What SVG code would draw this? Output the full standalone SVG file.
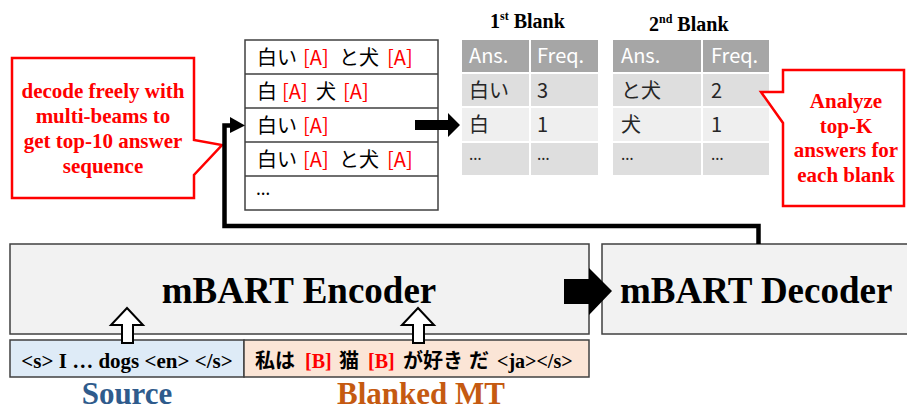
<svg xmlns="http://www.w3.org/2000/svg" width="907" height="412" viewBox="0 0 907 412">
<style>
.serif{font-family:"Liberation Serif","Times New Roman",serif;font-weight:bold}
.jp{font-family:"Noto Sans CJK JP","Noto Sans",sans-serif}
.lat{font-family:"Noto Sans","Liberation Sans",sans-serif}
.red{fill:#ff0000}
.box{stroke:#404040;stroke-width:1.5}
.call{fill:#ffffff;stroke:#ff0000;stroke-width:2.5}
.hdr{fill:#a6a6a6}
.c1{fill:#dedede}
.c2{fill:#efefef}
.wt{fill:#ffffff}
.hollow{fill:#ffffff;stroke:#000000;stroke-width:2}
</style>
<rect width="907" height="412" fill="#ffffff"/>

<g id="encoder">
  <rect class="box" x="10" y="244" width="579" height="90" fill="#f2f2f2"/>
  <text class="serif" x="299" y="303" font-size="37" text-anchor="middle">mBART Encoder</text>
</g>

<g id="decoder">
  <rect class="box" x="602" y="244" width="312" height="90" fill="#f2f2f2"/>
  <text class="serif" x="620" y="303" font-size="37">mBART Decoder</text>
</g>

<g id="source">
  <rect class="box" x="10" y="340" width="234" height="37" fill="#deebf7"/>
  <text class="serif" x="127" y="368" font-size="21" text-anchor="middle">&lt;s&gt; I … dogs &lt;en&gt; &lt;/s&gt;</text>
  <text class="serif" x="127" y="404" font-size="31" text-anchor="middle" fill="#2f5b8c">Source</text>
</g>

<g id="blanked-mt">
  <rect class="box" x="244" y="340" width="345" height="37" fill="#fbe5d6"/>
  <text y="368" font-size="20">
    <tspan class="jp" font-weight="bold" x="255">私は</tspan>
    <tspan class="serif red" x="305">[B]</tspan>
    <tspan class="jp" font-weight="bold" x="339">猫</tspan>
    <tspan class="serif red" x="368">[B]</tspan>
    <tspan class="jp" font-weight="bold" x="403">が好き</tspan>
    <tspan class="jp" font-weight="bold" x="469">だ</tspan>
    <tspan class="serif" x="497">&lt;ja&gt;&lt;/s&gt;</tspan>
  </text>
  <text class="serif" x="421" y="404" font-size="31" text-anchor="middle" fill="#c55a11">Blanked MT</text>
</g>

<g id="candidates">
  <rect class="box" x="245" y="40" width="193" height="170" fill="#ffffff"/>
  <path d="M245 74H438M245 108H438M245 142H438M245 176H438" stroke="#404040" stroke-width="1.5" fill="none"/>
  <g class="jp" font-size="20">
    <text y="65"><tspan x="257">白い</tspan><tspan class="red" x="303">[A]</tspan><tspan x="339">と犬</tspan><tspan class="red" x="387">[A]</tspan></text>
    <text y="99"><tspan x="257">白</tspan><tspan class="red" x="282">[A]</tspan><tspan x="316">犬</tspan><tspan class="red" x="343">[A]</tspan></text>
    <text y="133"><tspan x="257">白い</tspan><tspan class="red" x="303">[A]</tspan></text>
    <text y="167"><tspan x="257">白い</tspan><tspan class="red" x="303">[A]</tspan><tspan x="339">と犬</tspan><tspan class="red" x="387">[A]</tspan></text>
  </g>
  <text class="lat" x="256" y="195" font-size="18">…</text>
</g>

<g id="blank1">
  <text class="serif" x="490" y="28" font-size="20">1<tspan font-size="12" dy="-8">st</tspan><tspan dy="8"> Blank</tspan></text>
  <rect class="hdr" x="462" y="40" width="67" height="32"/>
  <rect class="hdr" x="531" y="40" width="67" height="32"/>
  <rect class="c1" x="462" y="74" width="67" height="32"/>
  <rect class="c1" x="531" y="74" width="67" height="32"/>
  <rect class="c2" x="462" y="108" width="67" height="33"/>
  <rect class="c2" x="531" y="108" width="67" height="33"/>
  <rect class="c1" x="462" y="143" width="67" height="32"/>
  <rect class="c1" x="531" y="143" width="67" height="32"/>
  <g class="jp" font-size="20" fill="#262626">
    <text class="wt" x="469" y="63">Ans.</text>
    <text class="wt" x="537" y="63">Freq.</text>
    <text x="469" y="98">白い</text>
    <text x="537" y="98">3</text>
    <text x="469" y="132">白</text>
    <text x="537" y="132">1</text>
  </g>
  <text class="lat" font-size="16" fill="#262626" x="469" y="160">…</text>
  <text class="lat" font-size="16" fill="#262626" x="537" y="160">…</text>
</g>

<g id="blank2">
  <text class="serif" x="649" y="31" font-size="20">2<tspan font-size="12" dy="-8">nd</tspan><tspan dy="8"> Blank</tspan></text>
  <rect class="hdr" x="613" y="40" width="88" height="32"/>
  <rect class="hdr" x="703" y="40" width="66" height="32"/>
  <rect class="c1" x="613" y="74" width="88" height="32"/>
  <rect class="c1" x="703" y="74" width="66" height="32"/>
  <rect class="c2" x="613" y="108" width="88" height="33"/>
  <rect class="c2" x="703" y="108" width="66" height="33"/>
  <rect class="c1" x="613" y="143" width="88" height="32"/>
  <rect class="c1" x="703" y="143" width="66" height="32"/>
  <g class="jp" font-size="20" fill="#262626">
    <text class="wt" x="621" y="63">Ans.</text>
    <text class="wt" x="711" y="63">Freq.</text>
    <text x="621" y="98">と犬</text>
    <text x="711" y="98">2</text>
    <text x="621" y="132">犬</text>
    <text x="711" y="132">1</text>
  </g>
  <text class="lat" font-size="16" fill="#262626" x="621" y="160">…</text>
  <text class="lat" font-size="16" fill="#262626" x="711" y="160">…</text>
</g>

<g id="callout-decode">
  <path class="call" d="M12 58H194V140L222 145L194 175V198H12Z"/>
  <g class="serif red" font-size="21" text-anchor="middle">
    <text x="103" y="98">decode freely with</text>
    <text x="103" y="123">multi-beams to</text>
    <text x="103" y="148">get top-10 answer</text>
    <text x="103" y="173">sequence</text>
  </g>
</g>

<g id="callout-analyze">
  <path class="call" d="M783 70H904V206H783V123L761 92H783Z"/>
  <g class="serif red" font-size="21" text-anchor="middle">
    <text x="846" y="108">Analyze</text>
    <text x="846" y="133">top-K</text>
    <text x="846" y="157">answers for</text>
    <text x="846" y="182">each blank</text>
  </g>
</g>

<g id="connectors">
  <path d="M758.5 244V226H224.5V125.5H232" fill="none" stroke="#000000" stroke-width="4.5"/>
  <polygon points="230,117 245,125.5 230,133" fill="#000000"/>
  <polygon points="415,120 448,120 448,113 460,125 448,137 448,130 415,130" fill="#000000"/>
  <polygon points="564,279 589,279 589,268 612,291 589,315 589,304 564,304" fill="#000000"/>
  <polygon class="hollow" points="127,308 143,325 133,325 133,343 122,343 122,325 111,325"/>
  <polygon class="hollow" points="418,308 434,325 424,325 424,343 413,343 413,325 402,325"/>
</g>
</svg>
